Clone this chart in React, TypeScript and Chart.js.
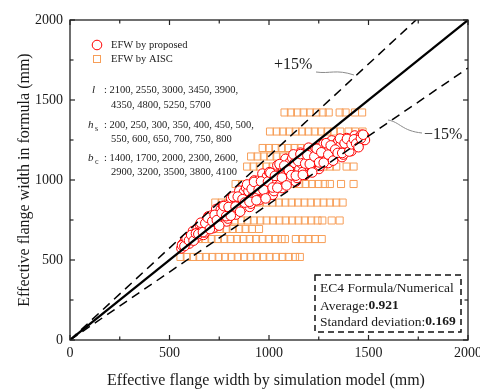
import React, { useEffect, useRef } from 'react';
import { Chart, registerables } from 'chart.js';

Chart.register(...registerables);

const axisMin = 0;
const axisMax = 2000;
const tickStep = 250;
const labelStep = 500;

const xTitle = 'Effective flange width by simulation model (mm)';
const yTitle = 'Effective flange width in formula (mm)';
const legendLabels = ['EFW by proposed', 'EFW by AISC'];
const paramLines = [
  ': 2100, 2550, 3000, 3450, 3900,',
  '4350, 4800, 5250, 5700',
  ': 200, 250, 300, 350, 400, 450, 500,',
  '550, 600, 650, 700, 750, 800',
  ': 1400, 1700, 2000, 2300, 2600,',
  '2900, 3200, 3500, 3800, 4100',
];
const statsTitle = 'EC4 Formula/Numerical';
const statsAverage = '0.921';
const statsStd = '0.169';

// reference lines: 1:1, +15%, -15%
const lineEqual = [[0, 0], [2000, 2000]];
const linePlus15 = [[0, 0], [1739, 2000]];
const lineMinus15 = [[0, 0], [2000, 1700]];

// EFW by proposed: [simulation, formula]
const proposed: number[][] = [
  [560, 573], [565, 598], [571, 591], [578, 623], [582, 609], [589, 602], [595, 641], [600, 603],
  [606, 643], [613, 637], [618, 681], [624, 638], [631, 668], [636, 641], [642, 698], [648, 678],
  [653, 720], [660, 676], [665, 714], [671, 657], [677, 672], [682, 737], [689, 708], [694, 772],
  [700, 735], [706, 706], [711, 778], [718, 699], [723, 766], [729, 748], [735, 819], [740, 739],
  [747, 781], [752, 735], [758, 816], [764, 783], [769, 839], [776, 773], [781, 824], [787, 741],
  [793, 759], [798, 846], [805, 803], [810, 886], [816, 834], [822, 797], [827, 888], [834, 784],
  [839, 870], [845, 846], [851, 933], [856, 833], [863, 884], [868, 827], [874, 925], [880, 884],
  [885, 951], [892, 871], [897, 931], [903, 832], [909, 852], [914, 954], [921, 902], [926, 997],
  [932, 936], [938, 890], [943, 995], [950, 874], [955, 971], [961, 941], [967, 1040], [972, 922],
  [979, 979], [984, 912], [990, 1023], [996, 974], [1001, 1049], [1008, 955], [1013, 1022], [1019, 908],
  [1025, 931], [1030, 1044], [1037, 985], [1042, 1091], [1048, 1021], [1054, 970], [1059, 1085], [1066, 950],
  [1071, 1057], [1077, 1024], [1083, 1132], [1088, 1004], [1095, 1066], [1100, 994], [1106, 1112], [1112, 1058],
  [1117, 1137], [1124, 1038], [1129, 1107], [1135, 990], [1141, 1013], [1146, 1127], [1153, 1067], [1158, 1171],
  [1164, 1102], [1170, 1050], [1175, 1163], [1182, 1031], [1187, 1133], [1193, 1101], [1199, 1202], [1204, 1082],
  [1211, 1138], [1216, 1072], [1222, 1178], [1228, 1130], [1233, 1200], [1240, 1111], [1245, 1172], [1251, 1069],
  [1257, 1088], [1262, 1188], [1269, 1136], [1274, 1225], [1280, 1165], [1286, 1122], [1291, 1216], [1298, 1106],
  [1303, 1191], [1309, 1164], [1315, 1247], [1320, 1149], [1327, 1195], [1332, 1141], [1338, 1227], [1344, 1188],
  [1349, 1244], [1356, 1175], [1361, 1222], [1367, 1143], [1373, 1159], [1378, 1234], [1385, 1196], [1390, 1262],
  [1396, 1219], [1402, 1189], [1407, 1257], [1414, 1181], [1419, 1241], [1425, 1224], [1431, 1278], [1436, 1217],
  [1443, 1247], [1448, 1216], [1454, 1269], [1460, 1251], [1465, 1283], [1472, 1252], [1477, 1277], [1482, 1250],
  [563, 592], [575, 587], [586, 634], [598, 622], [609, 656], [621, 621], [633, 666], [645, 662],
  [657, 733], [668, 674], [680, 730], [692, 764], [703, 693], [715, 742], [727, 782], [738, 749],
  [750, 715], [762, 794], [773, 837], [785, 774], [797, 831], [808, 777], [820, 896], [832, 834],
  [843, 896], [855, 802], [867, 880], [878, 859], [890, 972], [902, 864], [913, 945], [925, 988],
  [937, 873], [948, 940], [960, 991], [972, 939], [983, 885], [995, 990], [1007, 1045], [1018, 953],
  [1030, 1026], [1042, 952], [1053, 1099], [1065, 1015], [1077, 1090], [1088, 966], [1100, 1060], [1112, 1030],
  [1123, 1160], [1135, 1027], [1147, 1118], [1158, 1162], [1170, 1032], [1182, 1103], [1193, 1155], [1205, 1100],
  [1217, 1047], [1228, 1147], [1240, 1195], [1252, 1110], [1263, 1173], [1275, 1108], [1287, 1230], [1298, 1159],
  [1310, 1216], [1322, 1121], [1333, 1190], [1345, 1169], [1357, 1259], [1368, 1169], [1380, 1229], [1392, 1257],
  [1403, 1178], [1415, 1223], [1427, 1254], [1438, 1227], [1450, 1205], [1462, 1260], [1473, 1283],
];

// EFW by AISC: each row has one formula value and many simulation values
const aiscLevels = [1422, 1303, 1200, 1147, 1084, 975, 859, 747, 694, 631, 519];
const aiscSim: number[][] = [
  [1078, 1110, 1142, 1174, 1206, 1238, 1270, 1300, 1355, 1385, 1432, 1468],
  [1005, 1038, 1070, 1102, 1134, 1166, 1198, 1230, 1262, 1294, 1326, 1358, 1400, 1432, 1470],
  [968, 1000, 1032, 1064, 1096, 1128, 1160, 1192, 1224, 1256, 1288, 1320, 1352, 1380],
  [910, 942, 974, 1006, 1038, 1070, 1102, 1134, 1166, 1198, 1230, 1262, 1294],
  [890, 922, 954, 986, 1018, 1050, 1082, 1114, 1146, 1178, 1210, 1242, 1274, 1306, 1338, 1390, 1425],
  [832, 864, 896, 928, 960, 992, 1024, 1056, 1088, 1120, 1152, 1184, 1216, 1248, 1280, 1306, 1362, 1425],
  [730, 762, 794, 826, 858, 890, 922, 954, 986, 1018, 1050, 1082, 1114, 1146, 1178, 1210, 1242, 1274, 1306, 1338, 1370],
  [700, 732, 764, 796, 828, 860, 892, 924, 956, 988, 1020, 1052, 1084, 1116, 1148, 1180, 1212, 1244, 1268, 1315, 1355],
  [690, 722, 754, 786, 818, 850, 882, 914, 950],
  [615, 647, 679, 711, 743, 775, 807, 839, 871, 903, 935, 967, 999, 1031, 1063, 1080, 1135, 1167, 1199, 1231, 1265],
  [555, 587, 619, 651, 683, 715, 747, 779, 811, 843, 875, 907, 939, 971, 1003, 1035, 1067, 1099, 1131, 1155],
];

const RED = '#ff0000';
const ORANGE = 'rgb(247,158,88)';
const SERIF = '"Liberation Serif", "Times New Roman", serif';

function toPts(arr: number[][]) {
  return arr.map((p) => ({ x: p[0], y: p[1] }));
}

const overlayPlugin = {
  id: 'overlay',
  afterDatasetsDraw(chart: any) {
    const { ctx, chartArea: ca } = chart;
    const xs = chart.scales.x;
    const ys = chart.scales.y;
    ctx.save();
    // frame
    ctx.strokeStyle = '#222';
    ctx.lineWidth = 1.3;
    ctx.setLineDash([]);
    ctx.strokeRect(ca.left, ca.top, ca.right - ca.left, ca.bottom - ca.top);
    // inward ticks on four sides
    ctx.lineWidth = 1.2;
    const seg = (a: number, b: number, c: number, d: number) => {
      ctx.beginPath();
      ctx.moveTo(a, b);
      ctx.lineTo(c, d);
      ctx.stroke();
    };
    xs.ticks.forEach((t: any) => {
      const len = t.value % labelStep === 0 ? 5 : 3.5;
      const px = xs.getPixelForValue(t.value);
      seg(px, ca.bottom, px, ca.bottom - len);
      seg(px, ca.top, px, ca.top + len);
    });
    ys.ticks.forEach((t: any) => {
      const len = t.value % labelStep === 0 ? 5 : 3.5;
      const py = ys.getPixelForValue(t.value);
      seg(ca.left, py, ca.left + len, py);
      seg(ca.right, py, ca.right - len, py);
    });

    ctx.fillStyle = '#1a1a1a';
    ctx.textBaseline = 'middle';

    // axis titles
    ctx.font = `16px ${SERIF}`;
    ctx.textAlign = 'center';
    ctx.fillText(xTitle, (ca.left + ca.right) / 2 - 3, 381);
    ctx.save();
    ctx.translate(25, 180);
    ctx.rotate(-Math.PI / 2);
    ctx.fillText(yTitle, 0, 0);
    ctx.restore();

    // legend
    ctx.textAlign = 'left';
    ctx.font = `10.5px ${SERIF}`;
    ctx.lineWidth = 1;
    ctx.strokeStyle = RED;
    ctx.fillStyle = '#fff';
    ctx.beginPath();
    ctx.arc(97, 45, 4.8, 0, Math.PI * 2);
    ctx.fill();
    ctx.stroke();
    ctx.strokeStyle = ORANGE;
    ctx.strokeRect(93.5, 55.5, 7, 7);
    ctx.fillStyle = '#1a1a1a';
    ctx.fillText(legendLabels[0], 111, 45);
    ctx.fillText(legendLabels[1], 111, 59);

    // parameter lists
    ctx.font = `italic 11px ${SERIF}`;
    ctx.fillText('l', 92, 90);
    ctx.fillText('h', 88, 125);
    ctx.fillText('b', 88, 158);
    ctx.font = `8px ${SERIF}`;
    ctx.fillText('s', 95, 129);
    ctx.fillText('c', 95, 162);
    ctx.font = `10.5px ${SERIF}`;
    ctx.fillText(paramLines[0], 104, 90);
    ctx.fillText(paramLines[1], 111, 105);
    ctx.fillText(paramLines[2], 104, 125);
    ctx.fillText(paramLines[3], 111, 139);
    ctx.fillText(paramLines[4], 104, 158);
    ctx.fillText(paramLines[5], 111, 172);

    // +15% / -15% labels with leaders
    ctx.font = `16px ${SERIF}`;
    ctx.fillText('+15%', 274, 65);
    ctx.fillText('\u221215%', 424, 135);
    ctx.strokeStyle = '#8a8a8a';
    ctx.lineWidth = 1;
    ctx.beginPath();
    ctx.moveTo(316, 72);
    ctx.bezierCurveTo(330, 74, 336, 69, 354, 75);
    ctx.stroke();
    ctx.beginPath();
    ctx.moveTo(388, 120);
    ctx.bezierCurveTo(400, 122, 402, 131, 422, 133);
    ctx.stroke();

    // stats box
    ctx.strokeStyle = '#111';
    ctx.lineWidth = 1.5;
    ctx.setLineDash([6, 4]);
    ctx.strokeRect(315, 275, 146, 57);
    ctx.setLineDash([]);
    ctx.fillStyle = '#1a1a1a';
    ctx.font = `13.5px ${SERIF}`;
    ctx.fillText(statsTitle, 320, 288);
    const a1 = 'Average:';
    ctx.fillText(a1, 320, 306);
    let w = ctx.measureText(a1).width;
    ctx.font = `bold 13.5px ${SERIF}`;
    ctx.fillText(statsAverage, 320 + w, 306);
    ctx.font = `13.5px ${SERIF}`;
    const s1 = 'Standard deviation:';
    ctx.fillText(s1, 320, 322);
    w = ctx.measureText(s1).width;
    ctx.font = `bold 13.5px ${SERIF}`;
    ctx.fillText(statsStd, 320 + w, 322);

    ctx.restore();
  },
};

export default function App() {
  const canvasRef = useRef<HTMLCanvasElement | null>(null);

  useEffect(() => {
    const canvas = canvasRef.current;
    if (!canvas) return;
    const aiscPts: { x: number; y: number }[] = [];
    aiscSim.forEach((row, i) => {
      row.forEach((sx) => aiscPts.push({ x: sx, y: aiscLevels[i] }));
    });

    const lineDs = (pts: number[][], dash: number[], width: number) => ({
      type: 'scatter',
      data: toPts(pts),
      showLine: true,
      borderColor: '#000',
      borderWidth: width,
      borderDash: dash,
      pointRadius: 0,
      order: 0,
    });

    const chart = new Chart(canvas, {
      type: 'scatter',
      data: {
        datasets: [
          lineDs(lineEqual, [], 2.2) as any,
          lineDs(linePlus15, [9, 6], 1.5) as any,
          lineDs(lineMinus15, [9, 6], 1.5) as any,
          {
            label: legendLabels[0],
            data: toPts(proposed),
            pointStyle: 'circle',
            pointRadius: 4.8,
            pointBorderWidth: 1,
            pointBorderColor: RED,
            pointBackgroundColor: '#ffffff',
            order: 1,
          } as any,
          {
            label: legendLabels[1],
            data: aiscPts,
            pointStyle: 'rect',
            pointRadius: 5,
            pointBorderWidth: 1,
            pointBorderColor: ORANGE,
            pointBackgroundColor: 'rgba(0,0,0,0)',
            order: 2,
          } as any,
        ],
      },
      options: {
        animation: false,
        responsive: false,
        devicePixelRatio: 1,
        layout: { padding: { left: 0, top: 20, right: 12, bottom: 0 } },
        plugins: { legend: { display: false }, tooltip: { enabled: false } },
        scales: {
          x: {
            type: 'linear',
            min: axisMin,
            max: axisMax,
            grid: { display: false, drawTicks: false },
            border: { display: false },
            ticks: {
              stepSize: tickStep,
              autoSkip: false,
              maxRotation: 0,
              padding: 5,
              color: '#1a1a1a',
              font: { family: SERIF, size: 14 },
              callback: (v: any) => (Number(v) % labelStep === 0 ? String(v) : ''),
            },
            afterFit: (s: any) => {
              s.height = 49;
              s.paddingLeft = 0;
              s.paddingRight = 0;
            },
          },
          y: {
            type: 'linear',
            min: axisMin,
            max: axisMax,
            grid: { display: false, drawTicks: false },
            border: { display: false },
            ticks: {
              stepSize: tickStep,
              autoSkip: false,
              padding: 7,
              color: '#1a1a1a',
              font: { family: SERIF, size: 14 },
              callback: (v: any) => (Number(v) % labelStep === 0 ? String(v) : ''),
            },
            afterFit: (s: any) => {
              s.width = 70;
              s.paddingTop = 0;
              s.paddingBottom = 0;
            },
          },
        },
      } as any,
      plugins: [overlayPlugin],
    });
    return () => chart.destroy();
  }, []);

  return (
    <div style={{ position: 'fixed', left: 0, top: 0, width: 480, height: 389, background: '#fff' }}>
      <canvas ref={canvasRef} width={480} height={389} style={{ width: 480, height: 389, display: 'block' }} />
    </div>
  );
}
